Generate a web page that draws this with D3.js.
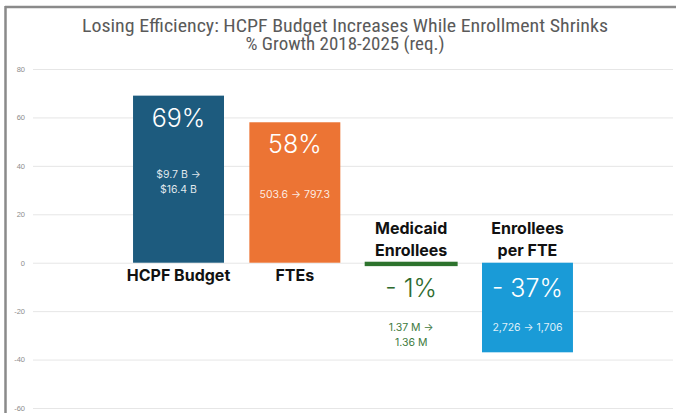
<!DOCTYPE html>
<html>
<head>
<meta charset="utf-8">
<script src="https://cdn.jsdelivr.net/npm/d3@7"></script>
<style>
  html, body { margin: 0; padding: 0; background: #fff; }
  svg { display: block; }
</style>
</head>
<body>
<div id="chart"></div>
<script>
// chart values
var categories = ["HCPF Budget", "FTEs", "Medicaid Enrollees", "Enrollees per FTE"];
var catLines = [["HCPF Budget"], ["FTEs"], ["Medicaid", "Enrollees"], ["Enrollees", "per FTE"]];
var growth = [69, 58, -1, -37];
var pctLabels = ["69%", "58%", "- 1%", "- 37%"];
var fromTo = [["$9.7 B  \u2192", "$16.4 B"], ["503.6 \u2192 797.3"], ["1.37 M  \u2192", "1.36 M"], ["2,726 \u2192 1,706"]];
var barColors = ["#1d5b7e", "#ec7434", "#2e742e", "#1a9bd7"];
var yTicks = [-60, -40, -20, 0, 20, 40, 60, 80];
var titleLines = ["Losing Efficiency: HCPF Budget Increases While Enrollment Shrinks", "% Growth 2018-2025 (req.)"];

var W = 676, H = 413;
var svg = d3.select("#chart").append("svg").attr("width", W).attr("height", H);

// frame (top + left edge only, like the screenshot)
svg.append("line").attr("x1", 5).attr("x2", 676).attr("y1", 7).attr("y2", 7)
  .attr("stroke", "#8a8a8a").attr("stroke-width", 2.5);
svg.append("line").attr("x1", 5.5).attr("x2", 5.5).attr("y1", 6).attr("y2", H)
  .attr("stroke", "#8a8a8a").attr("stroke-width", 2.5);

// title (widths)
var titleWidths = [526, 199];
svg.selectAll("text.title").data(titleLines).enter().append("text")
  .attr("class", "title")
  .attr("x", 345).attr("y", function (d, i) { return 31.5 + i * 18; })
  .attr("text-anchor", "middle")
  .attr("textLength", function (d, i) { return titleWidths[i]; })
  .attr("lengthAdjust", "spacingAndGlyphs")
  .style("font-family", "'Liberation Sans Narrow', 'Roboto Condensed', sans-serif")
  .style("font-size", "17.5px")
  .style("fill", "#5a5a5a")
  .text(function (d) { return d; });

var y = d3.scaleLinear().domain([-60, 80]).range([408, 69]);
var x = d3.scaleBand().domain(categories).range([33, 673])
  .paddingInner(0.218).paddingOuter(0.86);

// gridlines + tick labels
var yAxis = d3.axisLeft(y).tickValues(yTicks).tickSize(-640).tickPadding(8)
  .tickFormat(function (d) { return String(d); });
var gAxis = svg.append("g").attr("transform", "translate(33,0)").call(yAxis);
gAxis.select(".domain").remove();
gAxis.selectAll(".tick line").attr("stroke", "#e6e6e6").attr("stroke-width", 1);
gAxis.selectAll(".tick text")
  .style("font-family", "'Liberation Sans', Arial, sans-serif")
  .style("font-size", "7.5px")
  .style("fill", "#8c8c8c");

var y0 = y(0);

// bars
svg.selectAll("rect.bar").data(categories).enter().append("rect")
  .attr("class", "bar")
  .attr("x", function (d) { return x(d); })
  .attr("width", x.bandwidth())
  .attr("y", function (d, i) { return Math.min(y(growth[i]), y0); })
  .attr("height", function (d, i) { return Math.abs(y(growth[i]) - y0); })
  .attr("fill", function (d, i) { return barColors[i]; })
  .attr("stroke", function (d, i) { return barColors[i]; })
  .attr("stroke-width", function (d, i) { return Math.abs(growth[i]) < 5 ? 2 : 0; });

var font = "Inter, 'Noto Sans', sans-serif";

categories.forEach(function (c, i) {
  var cx = x(c) + x.bandwidth() / 2;
  var v = growth[i];
  var top = y(Math.max(v, 0)), bot = y(Math.min(v, 0));
  var big = Math.abs(v) > 10;
  var inside = big ? "#ffffff" : "#2e6b2e";

  // category label
  var lines = catLines[i];
  lines.forEach(function (t, k) {
    var ly = v >= 0 ? y0 + 18 + k * 22 : y0 - 7 - (lines.length - 1 - k) * 22;
    svg.append("text").attr("x", cx).attr("y", ly)
      .attr("text-anchor", "middle")
      .style("font-family", font).style("font-weight", 700)
      .style("font-size", "16px").style("fill", "#111")
      .text(t);
  });

  // percentage label
  var py = v >= 0 ? top + 31 : y0 + 34;
  svg.append("text").attr("x", cx).attr("y", py)
    .attr("text-anchor", "middle")
    .style("font-family", font).style("font-weight", 300)
    .style("font-size", "25px").style("fill", inside)
    .text(pctLabels[i]);

  // from -> to label
  var ft = fromTo[i];
  var fy;
  if (v >= 0) fy = (top + bot) / 2 + 6 - (ft.length - 1) * 7.5;
  else fy = y0 + 68;
  ft.forEach(function (t, k) {
    svg.append("text").attr("x", cx).attr("y", fy + k * 15)
      .attr("text-anchor", "middle")
      .style("font-family", font)
      .style("font-size", "10.5px")
      .style("fill", big ? "rgba(255,255,255,0.88)" : "#3d7a3d")
      .text(t);
  });
});
</script>
</body>
</html>
